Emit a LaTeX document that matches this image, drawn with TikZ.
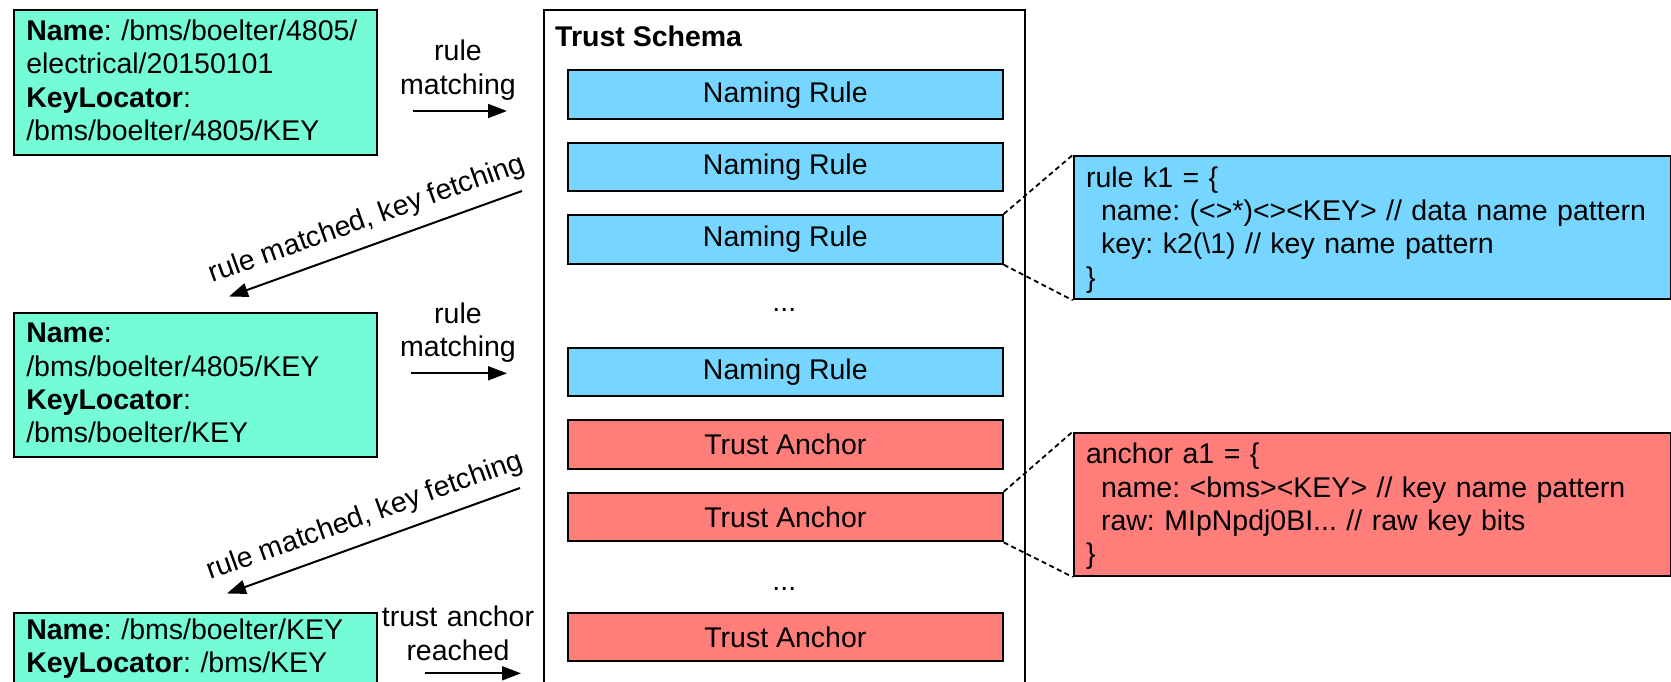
\documentclass[tikz,border=0pt]{standalone}
\usepackage{fontspec}
\setmainfont{Liberation Sans}
\usetikzlibrary{arrows.meta,calc}
\definecolor{seafoam}{HTML}{73FCD6}
\definecolor{sky}{HTML}{76D6FF}
\definecolor{salmon}{HTML}{FF7E79}
\frenchspacing
\begin{document}
\begin{tikzpicture}[x=1pt,y=-1pt,
  every node/.style={font=\fontsize{28.5}{33.4}\selectfont},
  packet/.style={draw, line width=2pt, fill=seafoam, anchor=north west,
    align=left, inner xsep=12pt, inner ysep=0pt, text width=338.4pt},
  bar/.style={draw, line width=2pt, anchor=north west, inner sep=0pt,
    minimum width=434.7pt, minimum height=48.7pt},
  rulebar/.style={bar, fill=sky},
  anchorbar/.style={bar, fill=salmon},
  detail/.style={draw, line width=2pt, anchor=north west, align=left,
    inner xsep=12.3pt, inner ysep=0pt, text width=572.2pt,
    text height=31pt, text depth=112.3pt},
  flow/.style={line width=2pt, -{Triangle[length=19pt,width=14pt]}},
  zoomline/.style={line width=1.8pt, dash pattern=on 5pt off 3.5pt},
  caption/.style={align=center, text width=170pt, anchor=base, inner sep=0pt},
  dots/.style={anchor=base, inner sep=0pt},
  slopedlabel/.style={anchor=base, inner sep=0pt, rotate=19.7},
]
\useasboundingbox (0,0) rectangle (1671,682);

% schema frame (runs past the lower edge)
\node[draw, line width=2pt, anchor=north west, minimum width=481pt,
  minimum height=680pt, inner sep=0pt] (schema) at (543,9.3) {};
\node[anchor=base west, inner sep=0pt,
  font=\fontsize{28.5}{33.4}\selectfont\bfseries] (title) at (555,46.7) {Trust Schema};

% rules and anchors inside the schema
\node[rulebar] (r1) at (567,69.3) {Naming Rule};
\node[rulebar] (r2) at (567,141.7) {Naming Rule};
\node[rulebar] (r3) at (567,214) {Naming Rule};
\node[dots] (rdots) at (784.3,311.5) {...};
\node[rulebar] (r4) at (567,346.7) {Naming Rule};
\node[anchorbar] (a1) at (567,419) {Trust Anchor};
\node[anchorbar] (a2) at (567,491.7) {Trust Anchor};
\node[dots] (adots) at (784.3,590) {...};
\node[anchorbar] (a3) at (567,611.7) {Trust Anchor};

% data packets
\node[packet, text height=30pt, text depth=115pt] (p1) at (13.3,9.3)
  {\textbf{Name}: /bms/boelter/4805/\\electrical/20150101\\\textbf{KeyLocator}:\\/bms/boelter/4805/KEY};
\node[packet, text height=30pt, text depth=114pt] (p2) at (13.3,311.7)
  {\textbf{Name}:\\/bms/boelter/4805/KEY\\\textbf{KeyLocator}:\\/bms/boelter/KEY};
\node[packet, text height=26.6pt, text depth=46.4pt] (p3) at (13.3,611.7)
  {\textbf{Name}: /bms/boelter/KEY\\\textbf{KeyLocator}: /bms/KEY};

% expanded rule and anchor definitions
\node[detail, fill=sky] (rk1) at (1072.7,155)
  {rule k1 = \{\\\hspace*{15pt}name: (<>*)<><KEY> // data name pattern\\\hspace*{15pt}key: k2(\textbackslash 1) // key name pattern\\\}};
\node[detail, fill=salmon] (aa1) at (1072.7,431.7)
  {anchor a1 = \{\\\hspace*{15pt}name: <bms><KEY> // key name pattern\\\hspace*{15pt}raw: MIpNpdj0BI... // raw key bits\\\}};

\draw[zoomline] (r3.north east) -- (rk1.north west);
\draw[zoomline] (r3.south east) -- (rk1.south west);
\draw[zoomline] (a2.north east) -- (aa1.north west);
\draw[zoomline] (a2.south east) -- (aa1.south west);

% rule matching steps
\coordinate (m1s) at (412.7,111);
\coordinate (m1e) at (507,111);
\draw[flow] (m1s) -- (m1e);
\node[caption] (m1l) at (458,60.7) {rule\\matching};

\coordinate (m2s) at (410.7,373.3);
\coordinate (m2e) at (507,373.3);
\draw[flow] (m2s) -- (m2e);
\node[caption] (m2l) at (458,323.3) {rule\\matching};

\coordinate (m3s) at (425,673.3);
\coordinate (m3e) at (521,673.3);
\draw[flow] (m3s) -- (m3e);
\node[caption] (m3l) at (458,626.7) {trust anchor\\reached};

% key fetching steps
\coordinate (f1s) at (522,191);
\coordinate (f1e) at (229,296.5);
\draw[flow] (f1s) -- coordinate[pos=0.5] (f1m) (f1e);
\node[slopedlabel] (f1l) at ($(f1m)!18pt!-90:(f1e)$) {rule matched, key fetching};

\coordinate (f2s) at (520,488);
\coordinate (f2e) at (227,593.5);
\draw[flow] (f2s) -- coordinate[pos=0.5] (f2m) (f2e);
\node[slopedlabel] (f2l) at ($(f2m)!18pt!-90:(f2e)$) {rule matched, key fetching};
\end{tikzpicture}
\end{document}
